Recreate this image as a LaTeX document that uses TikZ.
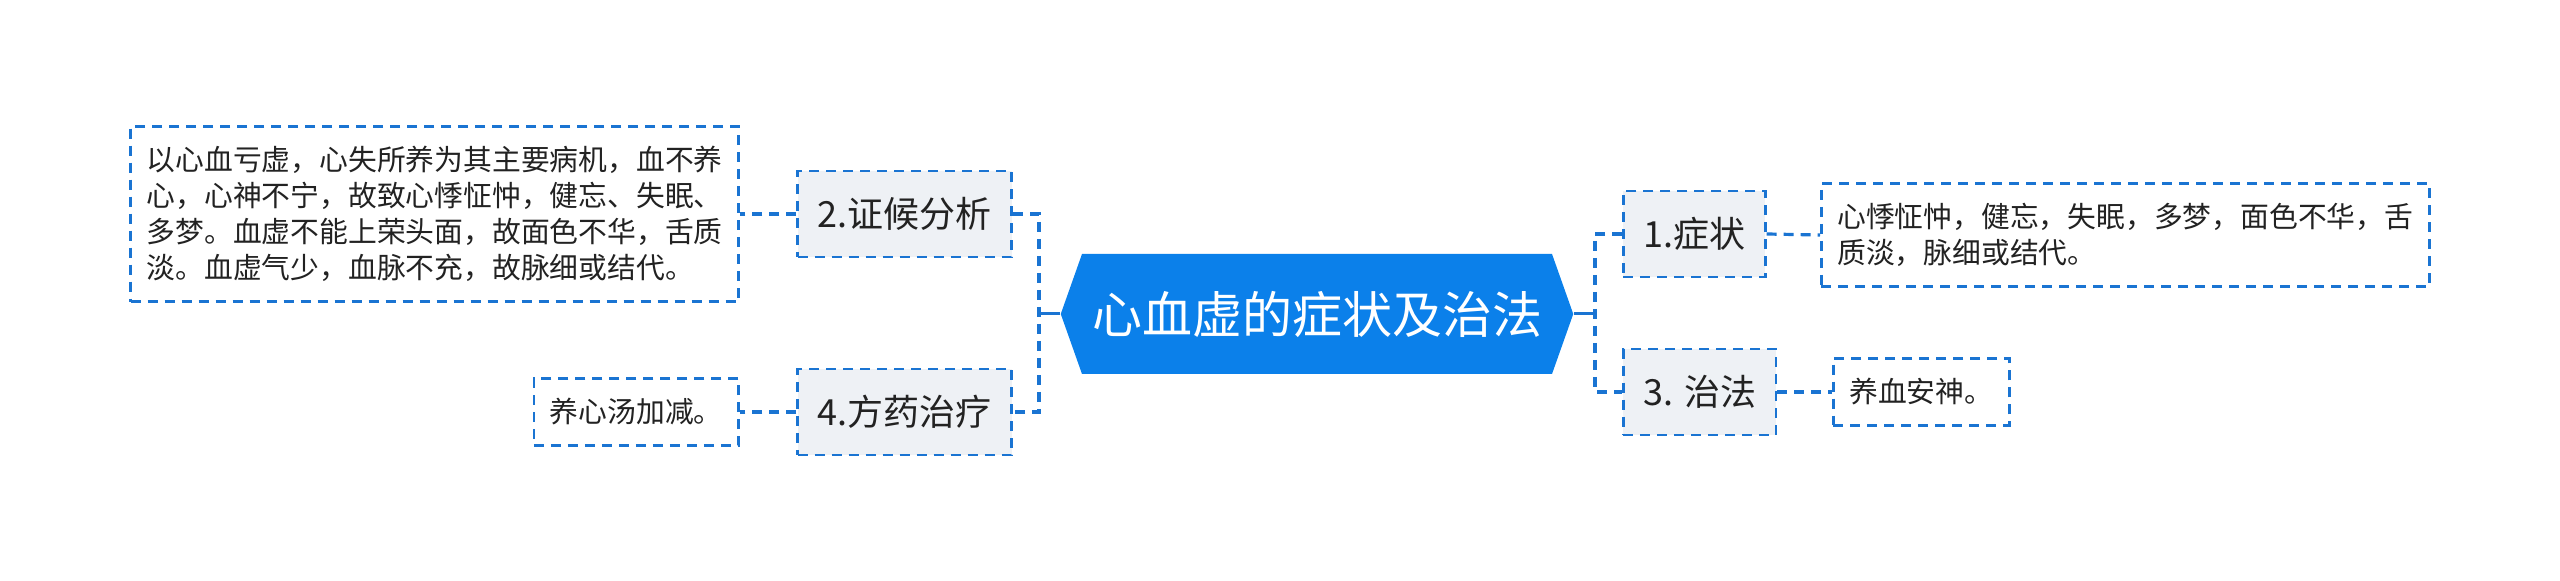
\documentclass[tikz,border=0pt]{standalone}
\usepackage{fontspec}
\newfontfamily\cjk{Noto Sans CJK SC}
\usetikzlibrary{shapes.symbols,calc}
\definecolor{rootblue}{HTML}{0B80EA}
\definecolor{linkblue}{HTML}{1A74D2}
\definecolor{boxgray}{HTML}{EEF1F5}
\definecolor{inkgray}{HTML}{222222}
\tikzset{
  rootnode/.style={
    signal, signal to=west and east,
    signal pointer angle=141,
    fill=rootblue, text=white,
    font=\cjk\fontsize{25}{30}\selectfont,
    minimum height=60pt,
    inner xsep=5pt, inner ysep=0pt,
  },
  branch/.style={
    rectangle, draw=linkblue, fill=boxgray, text=inkgray,
    line width=1.3pt, dash pattern=on 5pt off 3.5pt,
    font=\cjk\fontsize{18}{22}\selectfont,
    minimum height=43pt, inner xsep=10pt,
  },
  leaf/.style={
    rectangle, draw=linkblue, fill=white, text=inkgray,
    line width=1.3pt, dash pattern=on 5pt off 3.5pt,
    font=\cjk\fontsize{14.4}{18}\selectfont,
    align=left, inner xsep=8pt, inner ysep=10pt,
  },
  trunk/.style={linkblue, line width=1.5pt},
  twig/.style={linkblue, line width=1.6pt, dash pattern=on 5pt off 3.5pt},
}

\begin{document}
\begin{tikzpicture}[x=0.5pt, y=-0.5pt]
    \useasboundingbox (0,0) rectangle (2560,581);

    %% Root
    \node[rootnode] (root) at (1317,314) {心血虚的症状及治法};
    \coordinate (lj) at (1039,314);
    \coordinate (rj) at (1595,314);

    %% Left branches
    \node[branch, anchor=east] (ana) at (1013,214) {2.证候分析};
    \node[branch, anchor=east] (rx) at (1013,412) {4.方药治疗};
    \node[leaf, anchor=east] (anatxt) at (740,214) {以心血亏虚，心失所养为其主要病机，血不养\\心，心神不宁，故致心悸怔忡，健忘、失眠、\\多梦。血虚不能上荣头面，故面色不华，舌质\\淡。血虚气少，血脉不充，故脉细或结代。};
    \node[leaf, anchor=east] (rxtxt) at (740,412) {养心汤加减。};

    %% Right branches
    \node[branch, anchor=west] (sym) at (1622,234) {1.症状};
    \node[branch, anchor=west] (cure) at (1622,392) {3. 治法};
    \node[leaf, anchor=west] (symtxt) at (1820,235) {心悸怔忡，健忘，失眠，多梦，面色不华，舌\\质淡，脉细或结代。};
    \node[leaf, anchor=west] (curetxt) at (1832,392) {养血安神。};

    %% Connectors
    \draw[trunk] (root.west) -- (lj);
    \draw[trunk] (root.east) -- (rj);
    \draw[twig] (ana.east) -| (lj) |- (rx.east);
    \draw[twig] (sym.west) -| (rj) |- (cure.west);
    \draw[twig] (ana.west) -- (anatxt.east);
    \draw[twig] (rx.west) -- (rxtxt.east);
    \draw[twig] (sym.east) -- (symtxt.west);
    \draw[twig] (cure.east) -- (curetxt.west);
\end{tikzpicture}
\end{document}
